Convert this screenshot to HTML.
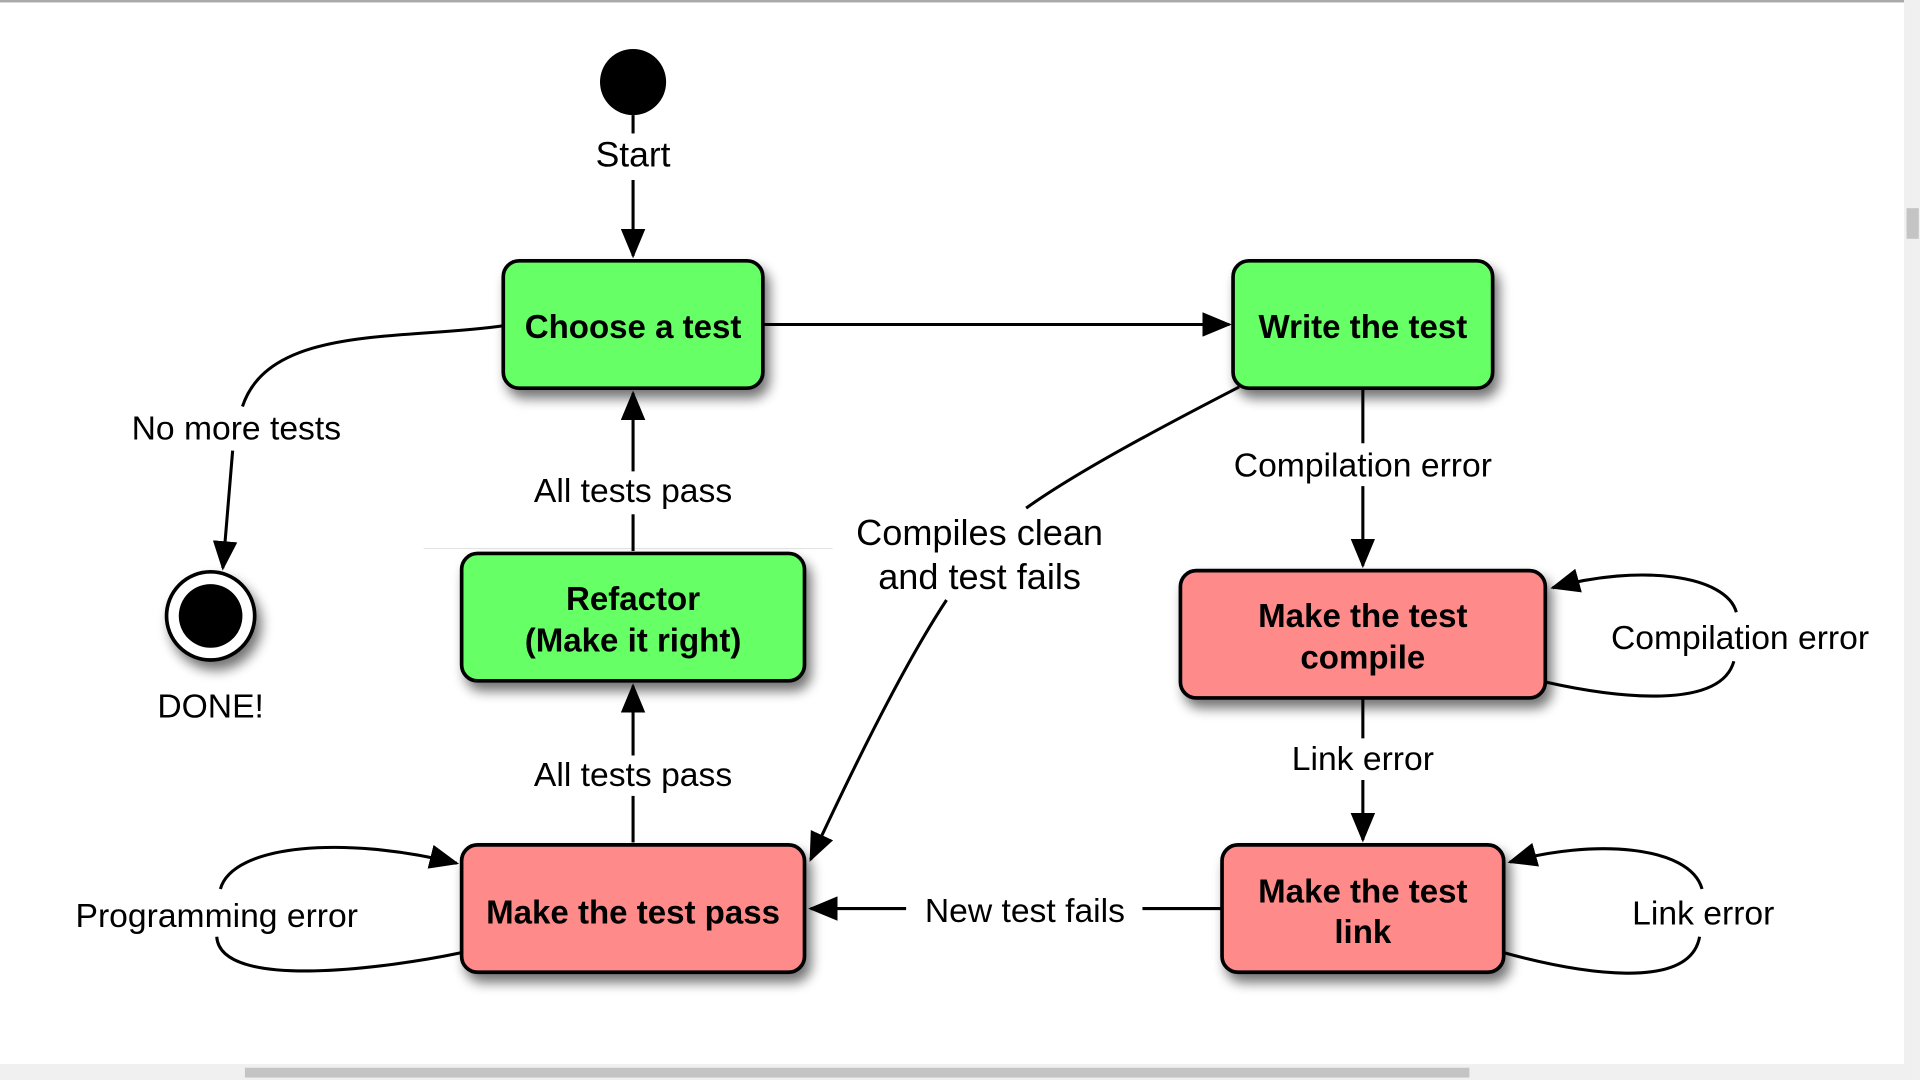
<!DOCTYPE html>
<html><head><style>html,body{margin:0;padding:0;background:#fff;overflow:hidden}svg{display:block}</style></head>
<body>
<svg width="1920" height="1080" viewBox="0 0 1568 882" preserveAspectRatio="none" xmlns="http://www.w3.org/2000/svg" font-family="Liberation Sans, sans-serif">
<defs>
<marker id="a" markerWidth="24" markerHeight="20" refX="22" refY="10" orient="auto" markerUnits="userSpaceOnUse"><path d="M0,0 L24,10 L0,20 Z" fill="#000"/></marker>
<filter id="s" x="-20%" y="-20%" width="150%" height="160%"><feGaussianBlur in="SourceAlpha" stdDeviation="5"/><feOffset dx="4" dy="7"/><feComponentTransfer><feFuncA type="linear" slope="0.55"/></feComponentTransfer><feMerge><feMergeNode/><feMergeNode in="SourceGraphic"/></feMerge></filter>
</defs>
<rect x="0" y="0" width="1568" height="882" fill="#fff"/>
<rect x="0" y="0" width="1555" height="2" fill="#aaa"/>
<rect x="1555" y="0" width="13" height="882" fill="#f0f0f0"/>
<rect x="1557" y="170" width="10" height="25" fill="#c4c4c4"/>
<rect x="0" y="869" width="1555" height="13" fill="#f0f0f0"/>
<rect x="200" y="872" width="1000" height="8" fill="#c4c4c4"/>
<line x1="346" y1="448" x2="680" y2="448" stroke="#e4e4e4" stroke-width="1"/>
<g stroke="#000" stroke-width="2.5" fill="none">
<line x1="517" y1="94" x2="517" y2="109"/>
<line x1="517" y1="147" x2="517" y2="209" marker-end="url(#a)"/>
<line x1="623" y1="265" x2="1004" y2="265" marker-end="url(#a)"/>
<path d="M411,266 C330,278 220,265 198,332"/>
<path d="M190,368 L182,464" marker-end="url(#a)"/>
<line x1="517" y1="450" x2="517" y2="420"/>
<line x1="517" y1="385" x2="517" y2="321" marker-end="url(#a)"/>
<line x1="517" y1="688" x2="517" y2="650"/>
<line x1="517" y1="617" x2="517" y2="560" marker-end="url(#a)"/>
<line x1="1113" y1="317" x2="1113" y2="362"/>
<line x1="1113" y1="397" x2="1113" y2="462" marker-end="url(#a)"/>
<line x1="1113" y1="570" x2="1113" y2="603"/>
<line x1="1113" y1="637" x2="1113" y2="686" marker-end="url(#a)"/>
<path d="M1012,316 C950,348 880,385 838,415"/>
<path d="M773,490 C740,540 700,620 662,702" marker-end="url(#a)"/>
<line x1="997" y1="742" x2="933" y2="742"/>
<line x1="740" y1="742" x2="662" y2="742" marker-end="url(#a)"/>
<path d="M1262,557 C1320,570 1405,580 1416,540"/>
<path d="M1418,500 C1410,470 1340,460 1268,480" marker-end="url(#a)"/>
<path d="M1228,778 C1290,795 1380,810 1388,765"/>
<path d="M1390,726 C1380,690 1300,685 1233,704" marker-end="url(#a)"/>
<path d="M377,778 C320,790 180,810 177,765"/>
<path d="M180,726 C190,690 280,682 373,705" marker-end="url(#a)"/>
</g>
<circle cx="517" cy="67" r="27" fill="#000"/>
<circle cx="172" cy="503" r="36" fill="#fff" stroke="#000" stroke-width="3" filter="url(#s)"/>
<circle cx="172" cy="503" r="26" fill="#000"/>
<g stroke="#000" stroke-width="3" filter="url(#s)">
<rect x="411" y="213" width="212" height="104" rx="13" fill="#66ff66"/>
<rect x="1007" y="213" width="212" height="104" rx="13" fill="#66ff66"/>
<rect x="377" y="452" width="280" height="104" rx="13" fill="#66ff66"/>
<rect x="964" y="466" width="298" height="104" rx="13" fill="#ff8a8a"/>
<rect x="377" y="690" width="280" height="104" rx="13" fill="#ff8a8a"/>
<rect x="998" y="690" width="230" height="104" rx="13" fill="#ff8a8a"/>
</g>
<g font-weight="bold" font-size="27" text-anchor="middle" fill="#000">
<text x="517" y="276">Choose a test</text>
<text x="1113" y="276">Write the test</text>
<text x="517" y="498">Refactor</text>
<text x="517" y="532">(Make it right)</text>
<text x="1113" y="512">Make the test</text>
<text x="1113" y="546">compile</text>
<text x="517" y="754">Make the test pass</text>
<text x="1113" y="737">Make the test</text>
<text x="1113" y="770">link</text>
</g>
<g font-size="27.5" text-anchor="middle" fill="#000">
<text x="517" y="136" font-size="29">Start</text>
<text x="193" y="359">No more tests</text>
<text x="172" y="586">DONE!</text>
<text x="517" y="410">All tests pass</text>
<text x="517" y="642">All tests pass</text>
<text x="800" y="445" font-size="29.5">Compiles clean</text>
<text x="800" y="481" font-size="29.5">and test fails</text>
<text x="1113" y="389">Compilation error</text>
<text x="1421" y="530">Compilation error</text>
<text x="1113" y="629">Link error</text>
<text x="1391" y="755">Link error</text>
<text x="837" y="753">New test fails</text>
<text x="177" y="757">Programming error</text>
</g>
</svg>
</body></html>
